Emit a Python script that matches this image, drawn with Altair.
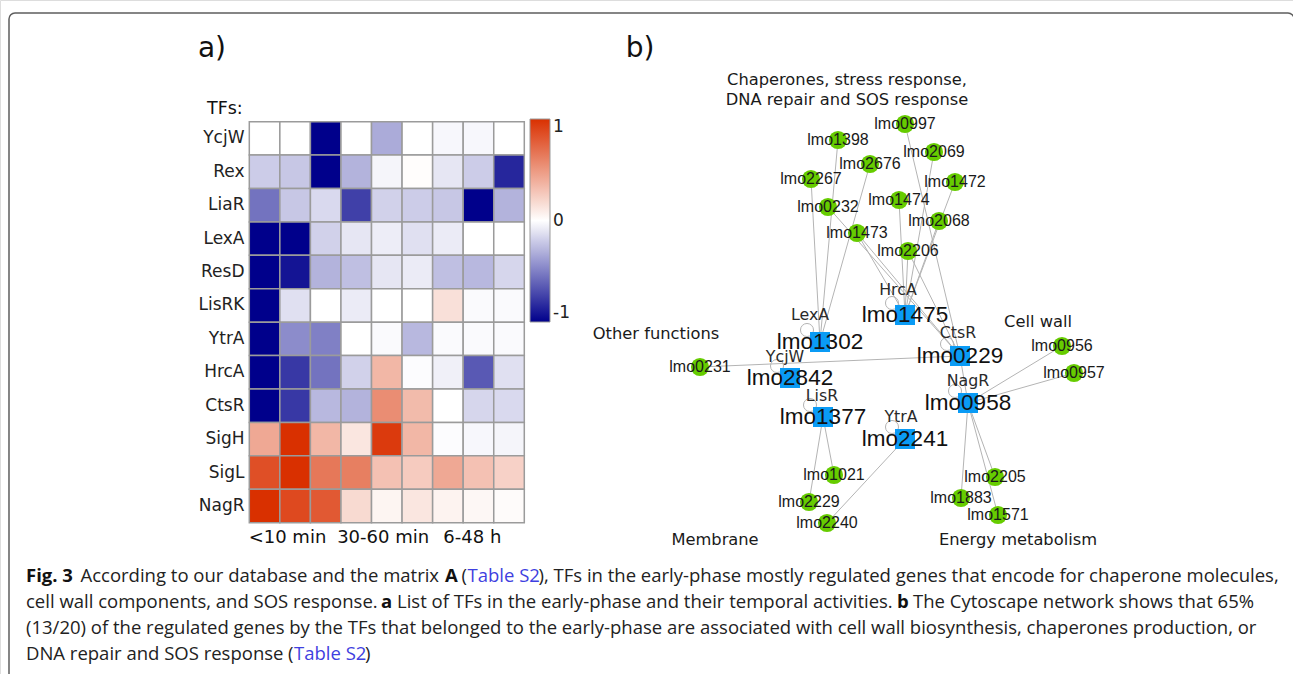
import altair as alt
import pandas as pd

# ---------------- heatmap data (panel a) ----------------
TFS = ["YcjW", "Rex", "LiaR", "LexA", "ResD", "LisRK", "YtrA", "HrcA", "CtsR", "SigH", "SigL", "NagR"]
TIMES = ["T1", "T2", "T3", "T4", "T5", "T6", "T7", "T8", "T9"]
YCJW = [0.00, 0.00, -1.00, 0.00, -0.33, 0.00, -0.03, -0.03, 0.00]
REX = [-0.20, -0.22, -1.00, -0.30, -0.04, 0.01, -0.10, -0.20, -0.85]
LIAR = [-0.55, -0.22, -0.15, -0.75, -0.18, -0.20, -0.22, -1.00, -0.30]
LEXA = [-1.00, -1.00, -0.18, -0.10, -0.07, -0.12, -0.08, 0.00, 0.00]
RESD = [-1.00, -0.92, -0.30, -0.25, -0.10, -0.08, -0.25, -0.28, -0.16]
LISRK = [-1.00, -0.12, 0.00, -0.08, 0.00, 0.00, 0.15, -0.02, -0.02]
YTRA = [-1.00, -0.45, -0.50, 0.00, -0.02, -0.28, -0.02, -0.02, -0.02]
HRCA = [-1.00, -0.78, -0.55, -0.18, 0.35, -0.01, -0.06, -0.65, -0.12]
CTSR = [-1.00, -0.78, -0.28, -0.30, 0.55, 0.33, 0.00, -0.16, -0.15]
SIGH = [0.42, 1.00, 0.35, 0.12, 0.95, 0.35, -0.01, -0.03, -0.04]
SIGL = [0.85, 1.00, 0.65, 0.62, 0.30, 0.25, 0.42, 0.30, 0.22]
NAGR = [1.00, 0.88, 0.80, 0.18, 0.05, 0.12, 0.06, 0.04, 0.02]
MATRIX = [YCJW, REX, LIAR, LEXA, RESD, LISRK, YTRA, HRCA, CTSR, SIGH, SIGL, NAGR]
TIME_LABELS = ["<10 min", "30-60 min", "6-48 h"]
TIME_LABEL_AT = [1.25, 4.38, 7.3]          # in column units
LEGEND_TICKS = [-1, 0, 1]

# ---------------- network data (panel b) ----------------
GENES = ["lmo0997", "lmo1398", "lmo2069", "lmo2676", "lmo2267", "lmo1472", "lmo1474",
         "lmo0232", "lmo2068", "lmo1473", "lmo2206", "lmo0231", "lmo0956", "lmo0957",
         "lmo1021", "lmo2229", "lmo2240", "lmo2205", "lmo1883", "lmo1571"]
GENE_X = [905, 838, 934, 870, 811, 955, 899, 828, 939, 857, 908, 700, 1062, 1074,
          834, 809, 827, 995, 961, 998]
GENE_Y = [124, 140, 152, 164, 179, 182, 200, 207, 221, 233, 251, 367, 346, 373,
          475, 502, 523, 477, 498, 515]
TF_GENES = ["lmo1475", "lmo1302", "lmo0229", "lmo2842", "lmo0958", "lmo1377", "lmo2241"]
TF_NAMES = ["HrcA", "LexA", "CtsR", "YcjW", "NagR", "LisR", "YtrA"]
TF_X = [905, 820, 960, 790, 968, 823, 905]
TF_Y = [315, 342, 356, 378, 403, 417, 439]
TF_NAME_X = [898, 810, 958, 785, 968, 822, 901]
TF_NAME_Y = [290, 315, 333, 357, 381, 396, 417]
EDGE_SOURCE = ["lmo1302", "lmo1302", "lmo1302",
               "lmo1475", "lmo1475", "lmo1475", "lmo1475", "lmo1475", "lmo1475",
               "lmo0229", "lmo0229", "lmo0229", "lmo0229", "lmo0229", "lmo0229",
               "lmo0958", "lmo0958", "lmo0958", "lmo0958", "lmo0958",
               "lmo1377", "lmo1377", "lmo2241"]
EDGE_TARGET = ["lmo2267", "lmo1398", "lmo2676",
               "lmo1473", "lmo1474", "lmo2069", "lmo2068", "lmo1472", "lmo2206",
               "lmo0232", "lmo1473", "lmo0997", "lmo2206", "lmo0231", "lmo0958",
               "lmo0956", "lmo0957", "lmo1883", "lmo2205", "lmo1571",
               "lmo1021", "lmo2229", "lmo2240"]
GROUPS = ["Chaperones, stress response,", "DNA repair and SOS response", "Other functions",
          "Cell wall", "Membrane", "Energy metabolism"]
GROUP_X = [847, 847, 656, 1038, 715, 1018]
GROUP_Y = [80, 99.5, 334, 322, 540, 540]

# ---------------- caption ----------------
CAPTION = [
    # text, x, baseline y, style
    ("Fig. 3", 26, 582, "bold"),
    ("According to our database and the matrix", 80.5, 582, "normal"),
    ("A", 445, 582, "bold"),
    ("(", 461.5, 582, "normal"),
    ("Table S2", 467.5, 582, "link"),
    ("), TFs in the early-phase mostly regulated genes that encode for chaperone molecules,", 538.5, 582, "normal"),
    ("cell wall components, and SOS response.", 26, 608, "normal"),
    ("a", 381, 608, "bold"),
    ("List of TFs in the early-phase and their temporal activities.", 397, 608, "normal"),
    ("b", 897, 608, "bold"),
    ("The Cytoscape network shows that 65%", 913, 608, "normal"),
    ("(13/20) of the regulated genes by the TFs that belonged to the early-phase are associated with cell wall biosynthesis, chaperones production, or", 26, 634, "normal"),
    ("DNA repair and SOS response", 26, 659.5, "normal"),
    ("(", 288, 659.5, "normal"),
    ("Table S2", 294, 659.5, "link"),
    (")", 365, 659.5, "normal"),
]

W, H = 1293, 674
PX = alt.Scale(domain=[0, W], range=[0, W], zero=False, nice=False)
PY = alt.Scale(domain=[0, H], range=[0, H], zero=False, nice=False)


def texts(df, font, size, color, weight="normal", align="center", baseline="middle"):
    return alt.Chart(df).mark_text(
        font=font, fontSize=size, color=color, fontWeight=weight,
        align=align, baseline=baseline
    ).encode(
        x=alt.X("x:Q", scale=PX, axis=None),
        y=alt.Y("y:Q", scale=PY, axis=None),
        text="label:N",
    )


layers = []

# frame
frame_df = pd.DataFrame({"x0": [9], "x1": [1294], "y0": [13], "y1": [700]})
layers.append(
    alt.Chart(frame_df).mark_rect(fill="white", stroke="#5e5e5e", strokeWidth=1.5, cornerRadius=6).encode(
        x=alt.X("x0:Q", scale=PX, axis=None), x2="x1:Q",
        y=alt.Y("y0:Q", scale=PY, axis=None), y2="y1:Q",
    )
)

# panel letters
layers.append(texts(pd.DataFrame({"label": ["a)", "b)"], "x": [212, 640], "y": [57, 57]}),
                    "DejaVu Sans", 28, "#111111", baseline="alphabetic"))

# heatmap
heat_df = pd.DataFrame([
    {"tf": tf, "time": t, "value": v}
    for tf, vals in zip(TFS, MATRIX) for t, v in zip(TIMES, vals)
])
col_scale = alt.Scale(domain=TIMES, range=[249.3, 524.3], paddingInner=0, paddingOuter=0)
row_scale = alt.Scale(domain=TFS, range=[121.7, 522.7], paddingInner=0, paddingOuter=0)
color_scale = alt.Scale(domain=[-1, 0, 1], range=["#00008b", "#ffffff", "#d93000"], interpolate="rgb")
layers.append(
    alt.Chart(heat_df).mark_rect(stroke="#9b9b9b", strokeWidth=1.5).encode(
        x=alt.X("time:O", scale=col_scale, axis=None),
        y=alt.Y("tf:O", scale=row_scale, axis=None),
        color=alt.Color("value:Q", scale=color_scale, legend=alt.Legend(
            orient="none", legendX=530, legendY=119, direction="vertical",
            gradientLength=203, gradientThickness=20, title=None, values=LEGEND_TICKS,
            labelFontSize=17, labelFont="DejaVu Sans", labelColor="#222222", labelOffset=3,
            gradientStrokeColor="#9b9b9b", gradientStrokeWidth=1, padding=0,
            labelExpr="datum.value > 0 ? '1' : (datum.value < 0 ? '-1' : '0')",
        )),
    )
)
# row labels
layers.append(
    alt.Chart(pd.DataFrame({"tf": TFS})).mark_text(
        font="DejaVu Sans", fontSize=17, color="#222222", align="right", baseline="middle"
    ).encode(
        y=alt.Y("tf:O", scale=row_scale, axis=None),
        x=alt.value(244.5),
        text="tf:N",
    )
)
# column labels
layers.append(
    alt.Chart(pd.DataFrame({"label": TIME_LABELS, "pos": TIME_LABEL_AT})).mark_text(
        font="DejaVu Sans", fontSize=18, color="#111111", align="center", baseline="alphabetic"
    ).encode(
        x=alt.X("pos:Q", scale=alt.Scale(domain=[0, 9], range=[249.3, 524.3], zero=False, nice=False), axis=None),
        y=alt.value(543),
        text="label:N",
    )
)
layers.append(texts(pd.DataFrame({"label": ["TFs:"], "x": [207], "y": [114]}),
                    "DejaVu Sans", 17.5, "#111111", align="left", baseline="alphabetic"))

# network
pos = {g: (x, y) for g, x, y in zip(GENES, GENE_X, GENE_Y)}
pos.update({g: (x, y) for g, x, y in zip(TF_GENES, TF_X, TF_Y)})
edge_df = pd.DataFrame({
    "x": [pos[s][0] for s in EDGE_SOURCE], "y": [pos[s][1] for s in EDGE_SOURCE],
    "x2": [pos[t][0] for t in EDGE_TARGET], "y2": [pos[t][1] for t in EDGE_TARGET],
})
layers.append(
    alt.Chart(edge_df).mark_rule(color="#b4b4b4", strokeWidth=1).encode(
        x=alt.X("x:Q", scale=PX, axis=None), y=alt.Y("y:Q", scale=PY, axis=None),
        x2="x2:Q", y2="y2:Q",
    )
)
tf_df = pd.DataFrame({"gene": TF_GENES, "name": TF_NAMES, "x": TF_X, "y": TF_Y})
loop_df = tf_df.assign(lx=tf_df.x - 13, ly=tf_df.y - 12)
layers.append(
    alt.Chart(loop_df).mark_point(shape="circle", filled=False, size=170, color="#b4b4b4", strokeWidth=1, opacity=1).encode(
        x=alt.X("lx:Q", scale=PX, axis=None), y=alt.Y("ly:Q", scale=PY, axis=None),
    )
)
gene_df = pd.DataFrame({"label": GENES, "x": GENE_X, "y": GENE_Y})
layers.append(
    alt.Chart(gene_df).mark_point(shape="circle", filled=True, size=330, color="#66cc00", opacity=1).encode(
        x=alt.X("x:Q", scale=PX, axis=None), y=alt.Y("y:Q", scale=PY, axis=None),
    )
)
layers.append(
    alt.Chart(tf_df).mark_point(shape="square", filled=True, size=400, color="#0a9bf5", opacity=1).encode(
        x=alt.X("x:Q", scale=PX, axis=None), y=alt.Y("y:Q", scale=PY, axis=None),
    )
)
layers.append(texts(gene_df, "Liberation Sans", 16, "#1a1a1a"))
layers.append(texts(tf_df.rename(columns={"gene": "label"}), "Liberation Sans", 22.5, "#111111"))
tf_lab = pd.DataFrame({"label": TF_NAMES, "x": TF_NAME_X, "y": TF_NAME_Y})
layers.append(texts(tf_lab, "DejaVu Sans", 15.8, "#2a2a2a"))
layers.append(texts(pd.DataFrame({"label": GROUPS, "x": GROUP_X, "y": GROUP_Y}),
                    "DejaVu Sans", 16.3, "#1a1a1a"))

# caption
cap = pd.DataFrame(CAPTION, columns=["label", "x", "y", "style"])
styles = {
    "normal": dict(weight="normal", color="#222222"),
    "bold": dict(weight="bold", color="#111111"),
    "link": dict(weight="normal", color="#3f3fe0"),
}
for st, kw in styles.items():
    sub = cap[cap["style"] == st]
    layers.append(texts(sub, "Open Sans", 18.5, kw["color"], weight=kw["weight"],
                        align="left", baseline="alphabetic"))

chart = alt.layer(*layers).resolve_scale(x="independent", y="independent").properties(
    width=W, height=H, padding=0, autosize=alt.AutoSizeParams(type="none")
).configure_view(stroke=None).configure(background="white")

chart.save("out.html", embed_options={"renderer": "svg", "actions": False})
